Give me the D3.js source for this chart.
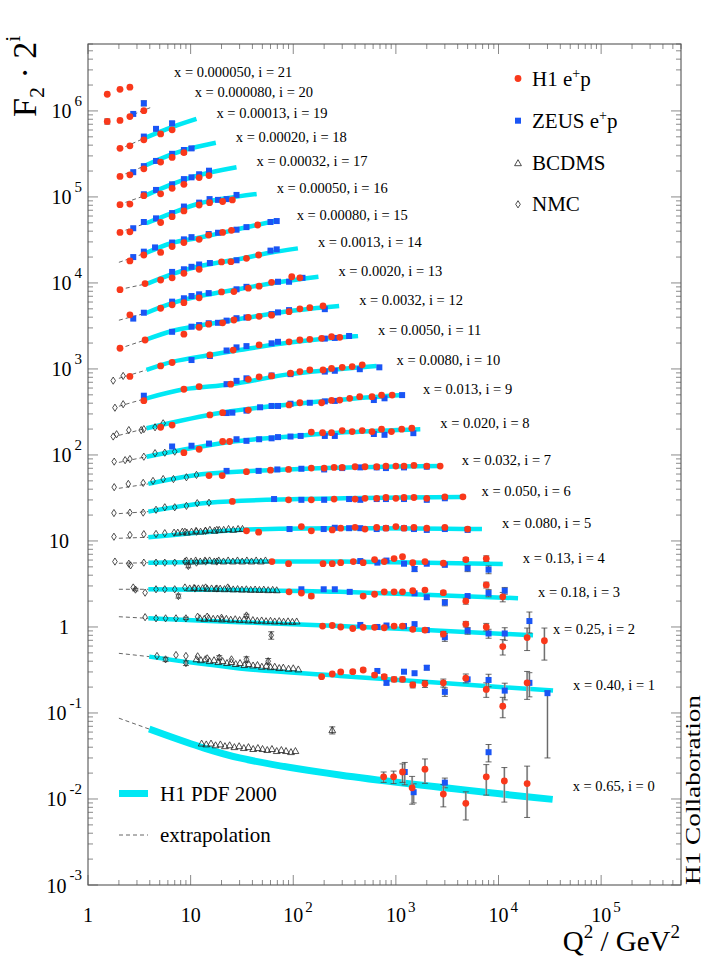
<!DOCTYPE html>
<html><head><meta charset="utf-8">
<script src="https://cdn.jsdelivr.net/npm/d3@7"></script>
<style>
body{margin:0;background:#fff}
svg{display:block}
</style>
</head><body>
<svg id="c" width="721" height="961" font-family="Liberation Serif, DejaVu Serif, serif"></svg>
<script>
// ---------------- DATA (index = i, bin shift factor 2^i) ----------------
const xBins = ["0.65","0.40","0.25","0.18","0.13","0.080","0.050","0.032","0.020","0.013","0.0080","0.0050","0.0032","0.0020","0.0013","0.00080","0.00050","0.00032","0.00020","0.00013","0.000080","0.000050"];

// H1 PDF 2000 fit, [Q2, F2]
const pdfFit = [
 [[3.95,0.065],[12.3,0.0405],[30,0.030],[284,0.019],[33700,0.0099]],
 [[3.95,0.226],[30,0.165],[284,0.135],[34000,0.091]],
 [[3.87,0.315],[30,0.284],[284,0.256],[21700,0.20]],
 [[3.87,0.343],[30,0.336],[284,0.32],[15500,0.27]],
 [[3.87,0.349],[30,0.36],[284,0.36],[11000,0.337]],
 [[3.87,0.345],[30,0.42],[355,0.44],[6900,0.43]],
 [[3.87,0.343],[15,0.435],[116,0.48],[4370,0.508]],
 [[3.87,0.36],[11.4,0.458],[116,0.537],[2800,0.58]],
 [[3.72,0.373],[24,0.553],[92,0.64],[355,0.72],[1730,0.78]],
 [[3.72,0.40],[20,0.606],[92,0.755],[355,0.875],[1170,0.97]],
 [[3.72,0.445],[8.6,0.567],[25,0.65],[92,0.85],[227,0.95],[648,1.06]],
 [[3.72,0.475],[6.6,0.59],[15.4,0.71],[30,0.81],[92,0.99],[428,1.18]],
 [[3.6,0.53],[6.6,0.675],[12.3,0.78],[30,0.93],[92,1.15],[280,1.32]],
 [[3.7,0.546],[6.6,0.71],[12.3,0.86],[30,1.04],[74,1.25],[176,1.44]],
 [[3.8,0.60],[6.6,0.775],[12.3,0.96],[30,1.16],[59,1.37],[111,1.54]],
 [[3.66,0.68],[6.6,0.89],[12.3,1.03],[30,1.30],[69,1.62]],
 [[3.7,0.755],[6.6,0.99],[12.1,1.28],[44,1.65]],
 [[3.7,0.80],[6.5,1.07],[12.1,1.37],[28,1.69]],
 [[3.45,0.86],[6.5,1.19],[10,1.40],[17.6,1.63]],
 [[3.7,0.94],[6.5,1.23],[11.4,1.54]],
 null,
 null
];

// extrapolation of the fit to low Q2, [Q2, F2]
const extrap = [
 [[2,0.087],[3.95,0.065]],[[2,0.247],[3.95,0.226]],[[2,0.329],[3.87,0.315]],
 [[2,0.343],[3.87,0.343]],[[2,0.344],[3.87,0.349]],[[2,0.336],[3.87,0.345]],
 [[2,0.325],[3.87,0.343]],[[2,0.32],[3.87,0.36]],[[2,0.32],[3.72,0.373]],
 [[2,0.33],[3.72,0.40]],[[2,0.36],[3.72,0.445]],[[2,0.38],[3.72,0.475]],
 [[2,0.42],[3.6,0.53]],[[2,0.45],[3.7,0.546]],[[2,0.51],[3.8,0.60]],
 [[2,0.53],[3.66,0.68]],[[2,0.59],[3.7,0.755]],[[2,0.62],[3.7,0.80]],
 [[2,0.66],[3.45,0.86]],[[2,0.68],[3.7,0.94]],[[2.4,0.81],[4.2,1.06]],
 null
];

// label anchors for bins without a fit curve, [Q2, F2]
const labelAnchorNoFit = {20:[7.0,1.35], 21:[4.4,1.15]};

// H1 e+p : [Q2, F2, err(up), err(down)]
const h1 = [
 [[760,0.0181,0.0025],[950,0.0181,0.003],[1160,0.0206,0.005],[1440,0.0135,0.0048],[1920,0.0222,0.007],[2900,0.0114,0.0033],[4800,0.0089,0.0032],[7600,0.0181,0.007],[11400,0.0162,0.007],[19000,0.0151,0.009]],
 [[189,0.132],[240,0.142],[290,0.150],[380,0.151,0.006],[480,0.158,0.007],[620,0.138,0.007],[770,0.132,0.008],[960,0.123,0.008],[1160,0.123,0.008],[1460,0.106,0.008],[1920,0.109,0.01],[2900,0.112,0.012],[4800,0.127,0.015],[7600,0.094,0.018],[11000,0.060,0.016],[19000,0.112,0.04]],
 [[193,0.256],[240,0.26],[290,0.25],[380,0.24],[480,0.248],[620,0.248],[770,0.245],[960,0.256,0.01],[1160,0.256,0.01],[1460,0.235,0.01],[1920,0.23,0.012],[2900,0.207,0.015],[4800,0.27,0.02],[7600,0.25,0.025],[11000,0.148,0.03],[19000,0.188,0.055],[28000,0.173,0.07]],
 [[91,0.32],[120,0.31],[150,0.286,0.015],[480,0.286],[620,0.30],[770,0.32],[960,0.32],[1160,0.32],[1460,0.33],[1920,0.336],[2900,0.313,0.015],[4800,0.25,0.02],[7600,0.385,0.03],[11000,0.28,0.035]],
 [[62,0.36],[90,0.34],[195,0.34],[240,0.34],[290,0.35],[385,0.36],[480,0.35],[620,0.38],[770,0.36],[960,0.39],[1160,0.41],[1460,0.35],[1920,0.36],[2900,0.345],[4800,0.38,0.02],[7600,0.39,0.03]],
 [[35,0.41],[46,0.395],[120,0.46],[150,0.41],[240,0.42],[290,0.44],[400,0.45],[500,0.43],[650,0.45],[800,0.44],[1000,0.46],[1200,0.44],[1500,0.45],[2000,0.44],[3000,0.45],[5000,0.43,0.02]],
 [[25.5,0.45],[90,0.47],[150,0.47],[250,0.48],[400,0.48],[500,0.49],[650,0.49],[800,0.50],[1000,0.49],[1200,0.50],[1500,0.50],[2000,0.49],[3000,0.51],[4500,0.51,0.02]],
 [[15.1,0.45],[20.3,0.45],[35,0.50],[60,0.52],[90,0.53],[150,0.55],[200,0.55],[250,0.56],[300,0.56],[400,0.57],[500,0.57],[650,0.57],[800,0.58],[1000,0.58],[1200,0.58],[1500,0.59],[2000,0.58],[2700,0.58]],
 [[8.6,0.415],[12.1,0.455],[20.5,0.56],[24,0.56],[150,0.72],[193,0.71],[236,0.71],[300,0.75],[375,0.73],[470,0.75],[585,0.73],[725,0.78],[905,0.73],[1140,0.78],[1430,0.80]],
 [[5.1,0.41],[6.6,0.435],[15.4,0.57],[20.5,0.606],[36.5,0.65],[91,0.745],[116,0.79],[189,0.79],[236,0.84],[284,0.85],[355,0.89],[444,0.93],[585,0.93],[725,0.97],[920,0.97]],
 [[3.5,0.418],[8.6,0.567],[12.1,0.61],[24.6,0.65],[36.5,0.74],[46.5,0.79],[61.5,0.81],[94,0.87],[116,0.91],[145,0.95],[195,0.95],[236,0.99],[300,1.02],[375,1.04],[470,1.09]],
 [[2.56,0.40],[5.1,0.53],[6.6,0.58],[15.4,0.71],[26,0.81],[46.5,0.93],[91,1.01],[116,1.06],[145,1.08],[189,1.11],[236,1.16],[284,1.14]],
 [[2.05,0.425],[3.6,0.53],[8.6,0.62],[12.1,0.745],[15,0.81],[20.5,0.84],[26.4,0.905],[36.5,0.97],[46.5,1.0],[61.5,1.03],[91,1.13],[116,1.22],[145,1.26],[195,1.32]],
 [[2.56,0.52],[5.1,0.62],[6.6,0.68],[8.6,0.72],[12.1,0.82],[20,0.96],[26.4,0.97],[36.5,1.06],[46.5,1.12],[61.5,1.24],[96.7,1.44],[116,1.40]],
 [[2.05,0.51],[3.6,0.60],[5.1,0.66],[6.6,0.70],[8.6,0.79],[12.1,0.88],[20,1.07],[24.7,1.08],[35,1.18],[46,1.29]],
 [[2.56,0.55],[3.5,0.645],[5.1,0.69],[6.6,0.81],[8.6,0.90],[12.1,0.98],[15,1.10],[20.5,1.18],[25,1.25],[45,1.44]],
 [[2.05,0.59],[2.56,0.60],[5.1,0.77],[6.6,0.90],[8.6,1.05],[12.1,1.23],[15.3,1.31],[20.5,1.35],[25.5,1.41]],
 [[2.05,0.62],[2.56,0.63],[3.5,0.79],[5.1,0.83],[6.6,0.96],[8.6,1.07],[12.1,1.28],[15.1,1.35]],
 [[2.05,0.66],[2.56,0.69],[3.5,0.81],[5.1,0.97],[6.6,1.10],[8.6,1.25,0.06]],
 [[2.05,0.70],[2.56,0.75],[3.5,0.88],[5.1,1.03],[6.6,1.15]],
 [[1.54,0.72,0.05],[2.05,0.74],[2.56,0.82],[3.5,0.96]],
 [[1.54,0.745],[2.05,0.85],[2.56,0.90]]
];

// ZEUS e+p : [Q2, F2, err(up), err(down)]
const zeus = [
 [[1220,0.0206,0.006],[1490,0.012,0.003],[3000,0.0155,0.002],[8000,0.035,0.008]],
 [[660,0.154],[810,0.112,0.006],[1200,0.151],[1520,0.145],[2000,0.168,0.01],[3000,0.088,0.01],[5000,0.123],[8000,0.121,0.02],[11500,0.091,0.02],[20000,0.112,0.035],[30000,0.085,0.005,0.07]],
 [[450,0.264],[660,0.25],[810,0.26],[1200,0.256],[1520,0.27],[2000,0.23],[3000,0.19,0.02],[5000,0.226,0.02],[8000,0.21,0.025],[11500,0.21,0.035],[20000,0.293,0.08]],
 [[120,0.343],[198,0.343],[254,0.343],[355,0.32],[1520,0.308],[2000,0.277,0.015],[3000,0.24,0.02],[5000,0.286],[8000,0.31,0.03],[11500,0.33,0.03]],
 [[450,0.365],[660,0.35],[810,0.37],[1200,0.34],[1520,0.295,0.02],[2000,0.34],[3000,0.33],[5000,0.30,0.025],[8000,0.29,0.03]],
 [[92,0.43],[198,0.43],[254,0.445],[350,0.44],[450,0.44],[650,0.43],[800,0.44],[1200,0.44],[1500,0.43],[2000,0.42],[3000,0.43],[5000,0.42]],
 [[65,0.48],[120,0.47],[200,0.47],[350,0.48],[450,0.47],[650,0.48],[800,0.48],[1200,0.48],[2000,0.47],[3000,0.49]],
 [[22.4,0.51],[46,0.51],[70,0.53],[120,0.54],[200,0.53],[300,0.55],[450,0.56],[650,0.56],[800,0.55],[1200,0.56],[2000,0.57]],
 [[6.6,0.49],[10.2,0.50],[15.1,0.53],[28,0.595],[35,0.57],[46.5,0.595],[61.5,0.61],[71,0.63],[94,0.64],[118,0.65],[203,0.65],[254,0.65],[610,0.685],[775,0.67],[1480,0.70]],
 [[22.4,0.60],[25.5,0.606],[35,0.64],[47.5,0.70],[61.5,0.725],[71,0.725],[94,0.77],[145,0.79],[203,0.82],[254,0.83],[610,0.85],[775,0.89],[1150,0.97]],
 [[3.5,0.477],[22.4,0.65],[28,0.71],[35,0.76],[61.5,0.82],[94,0.85],[203,0.91],[254,0.93],[445,0.97],[690,1.02]],
 [[10.2,0.62],[15.4,0.69],[22.4,0.80],[28,0.87],[35,0.90],[61.5,0.97],[71,1.01],[203,1.10],[254,1.12],[350,1.18]],
 [[6.6,0.66],[10.2,0.757],[12.1,0.79],[15,0.83],[18.5,0.84],[22.4,0.89],[28,0.95],[35,0.97],[61.5,1.06],[71,1.11],[91,1.18],[203,1.21]],
 [[2.76,0.47],[3.5,0.55],[6.6,0.74],[8.6,0.81],[10.2,0.86],[12.1,0.90],[15,0.93],[28,1.03],[35,1.10],[71,1.26],[91,1.26],[123,1.40]],
 [[6.6,0.82],[8.6,0.88],[10.2,0.94],[12.1,1.0],[15.4,1.04],[28,1.12],[60,1.45],[69,1.50]],
 [[2.76,0.61],[3.5,0.705],[4.5,0.79],[6.6,0.90],[8.6,0.98],[10.2,1.04],[15,1.13],[18.5,1.17],[28,1.27],[35,1.36],[60,1.56],[69,1.60]],
 [[2.76,0.66],[3.5,0.78],[4.6,0.86],[6.6,0.99],[8.6,1.18],[12.1,1.31],[15.3,1.44],[18.5,1.41],[22.4,1.44],[28,1.61]],
 [[3.5,0.82],[4.6,0.92],[6.6,1.07],[8.6,1.23],[10.2,1.29],[12.1,1.40],[15.1,1.54]],
 [[2.76,0.74],[3.5,0.87],[4.6,1.0],[6.6,1.21],[8.6,1.34],[10.2,1.40,0.07]],
 [[3.5,0.96],[4.6,1.18],[6.6,1.37,0.07]],
 [[2.76,0.88],[3.5,1.17,0.08]],
 []
];

// BCDMS : [Q2, F2, err]
const bcdms = [
 [[12.8,0.044],[14.2,0.043],[15.8,0.044],[17.5,0.042],[19.5,0.043],[21.6,0.041],[24,0.042],[26.7,0.040],[29.7,0.041],[33,0.039],[36.6,0.040],[40.7,0.038],[45.2,0.039],[50.2,0.038],[55.8,0.037],[62,0.038],[69,0.036],[76.6,0.037],[85,0.036],[95,0.035],[105,0.036],[240,0.063,0.006]],
 [[11.4,0.21],[12.6,0.205],[13.9,0.21],[15.3,0.20],[16.9,0.205],[18.6,0.195],[20.5,0.20],[22.6,0.19],[24.9,0.195],[27.5,0.185],[30.3,0.19],[33.4,0.18],[36.8,0.185],[40.6,0.178],[44.8,0.18],[49.4,0.172],[54.5,0.176],[60,0.17],[66,0.172],[73,0.166],[80,0.168],[90,0.163],[100,0.165],[112,0.16]],
 [[12.3,0.315],[13.6,0.31],[15,0.315],[16.6,0.31],[18.3,0.312],[20.2,0.305],[22.3,0.31],[24.6,0.303],[27.2,0.307],[30,0.30],[33.1,0.303],[36.6,0.297],[40.4,0.30],[44.6,0.294],[49.2,0.297],[54.3,0.291],[60,0.294],[66,0.289],[73,0.292],[80.5,0.287],[89,0.29],[98,0.286],[108,0.289]],
 [[9.8,0.35],[10.8,0.355],[11.9,0.35],[13.1,0.352],[14.5,0.347],[16,0.35],[17.6,0.345],[19.4,0.348],[21.4,0.343],[23.6,0.346],[26,0.341],[28.7,0.344],[31.6,0.339],[34.9,0.342],[38.5,0.337],[42.5,0.34],[46.8,0.336],[51.6,0.339],[57,0.334],[63,0.337],[69,0.333]],
 [[9.1,0.37],[10.1,0.36],[11.2,0.37],[12.4,0.36],[13.8,0.37],[15.3,0.37],[17,0.36],[18.8,0.37],[20.9,0.36],[23.2,0.37],[25.8,0.36],[28.6,0.37],[31.8,0.36],[35.3,0.37],[39.2,0.36],[43.5,0.37],[48.3,0.36],[53.6,0.37]],
 [[7.5,0.39],[8.3,0.40],[9.2,0.39],[10.2,0.40],[11.3,0.41],[12.5,0.40],[13.9,0.41],[15.4,0.42],[17.1,0.41],[19,0.42],[21,0.42],[23.4,0.43],[26,0.42],[29,0.43],[32,0.43]],
 [],[],[],[],[],[],[],[],[],[],[],[],[],[],[],[]
];

// NMC : [Q2, F2, err]
const nmc = [
 [],
 [[4.7,0.23],[5.7,0.21,0.012],[7.2,0.236],[9,0.23],[9,0.19,0.012],[11.7,0.228],[14.5,0.216],[19,0.22,0.012],[25,0.21],[35,0.21,0.015],[57,0.20,0.015]],
 [[3.6,0.325],[4.6,0.315],[5.7,0.315],[7.2,0.315],[9,0.315,0.01],[11.7,0.329],[14.5,0.33],[20,0.32],[35,0.34,0.012],[61,0.20,0.02]],
 [[2.76,0.36],[2.9,0.34,0.012],[3.6,0.313],[4.6,0.343],[5.6,0.343],[7,0.343],[7.6,0.286,0.015],[8.8,0.36],[11,0.35],[14,0.36],[18,0.35],[23,0.36]],
 [[1.83,0.36],[2.5,0.34],[2.6,0.325],[3.5,0.35],[4.6,0.35],[5.6,0.35],[7,0.35],[8.8,0.36],[9.5,0.32,0.015],[11.4,0.35],[14,0.36],[18,0.36]],
 [[1.79,0.35],[2.56,0.367],[3.5,0.375],[4.6,0.377],[5.6,0.385],[6.9,0.39],[8.8,0.40],[11.4,0.40],[14,0.41],[18,0.42]],
 [[1.79,0.33],[2.56,0.334],[3.45,0.334],[4.6,0.36],[5.6,0.385],[7,0.385],[9.1,0.40],[11.6,0.43],[15.1,0.435]],
 [[1.8,0.33],[2.47,0.36],[3.45,0.37],[4.3,0.39],[5.4,0.41],[6.8,0.41],[9.1,0.43],[11.4,0.458]],
 [[1.8,0.327],[2.3,0.34],[2.56,0.35],[3.5,0.373],[4.5,0.41],[5.6,0.415],[7.0,0.427]],
 [[1.76,0.32],[1.9,0.34],[2.5,0.38],[3.3,0.38],[3.5,0.39],[4.5,0.41],[5.4,0.456]],
 [[1.83,0.346],[2.2,0.38]],
 [[1.76,0.357],[2.2,0.405]],
 [],[],[],[],[],[],[],[],[],[]
];

const legendItems = ["H1 e+p","ZEUS e+p","BCDMS","NMC"];
const yTickExps = [-3,-2,-1,0,1,2,3,4,5,6];
const xTickExps = [0,1,2,3,4,5];

// ---------------- DRAWING ----------------
const svg = d3.select("#c");
const x = d3.scaleLog().domain([1, 6e5]).range([88, 681]);
const y = d3.scaleLog().domain([1e-3, 6e6]).range([885, 44]);
const RED = "#f9381b", BLUE = "#1a55f5", CYAN = "#00e8f4";
const sc = i => Math.pow(2, i);

const gCurves = svg.append("g");
const gErr = svg.append("g");
const gMk = svg.append("g");
const line = d3.line().x(d => x(d[0])).y(d => y(d[1])).curve(d3.curveCatmullRom.alpha(0.5));

pdfFit.forEach((pts, i) => {
  if (!pts) return;
  gCurves.append("path")
    .attr("d", line(pts.map(p => [p[0], p[1]*sc(i)])))
    .attr("fill","none").attr("stroke",CYAN)
    .attr("stroke-width", i===0 ? 7 : 4.5).attr("stroke-linecap","butt");
});
extrap.forEach((pts, i) => {
  if (!pts) return;
  gCurves.append("path")
    .attr("d", line(pts.map(p => [p[0], p[1]*sc(i)])))
    .attr("fill","none").attr("stroke","#555").attr("stroke-width",0.9)
    .attr("stroke-dasharray","4,3");
});

function errBar(q, f, i, up, dn) {
  if (!up) return;
  if (dn === undefined) dn = up;
  const cx = x(q), s = sc(i);
  const y1 = y((f+up)*s), y2 = y(Math.max(f-dn, 1e-5)*s);
  gErr.append("line").attr("x1",cx).attr("x2",cx).attr("y1",y1).attr("y2",y2)
    .attr("stroke","#bdbdbd").attr("stroke-width",2);
  gErr.append("line").attr("x1",cx).attr("x2",cx).attr("y1",y1).attr("y2",y2)
    .attr("stroke","#444").attr("stroke-width",0.7);
  [y1,y2].forEach(yy => gErr.append("line").attr("x1",cx-3).attr("x2",cx+3)
    .attr("y1",yy).attr("y2",yy).attr("stroke","#444").attr("stroke-width",0.8));
}

const triPath = "M0,-3.6L3.4,2.4L-3.4,2.4Z";
const diaPath = "M0,-3.6L2.3,0L0,3.6L-2.3,0Z";

nmc.forEach((pts, i) => pts.forEach(p => {
  errBar(p[0], p[1], i, p[2], p[3]);
  gMk.append("path").attr("d", diaPath)
    .attr("transform", `translate(${x(p[0])},${y(p[1]*sc(i))})`)
    .attr("fill","none").attr("stroke","#222").attr("stroke-width",0.8);
}));
bcdms.forEach((pts, i) => pts.forEach(p => {
  errBar(p[0], p[1], i, p[2], p[3]);
  gMk.append("path").attr("d", triPath)
    .attr("transform", `translate(${x(p[0])},${y(p[1]*sc(i))})`)
    .attr("fill","none").attr("stroke","#222").attr("stroke-width",0.8);
}));
zeus.forEach((pts, i) => pts.forEach(p => {
  errBar(p[0], p[1], i, p[2], p[3]);
  gMk.append("rect").attr("x", x(p[0])-3).attr("y", y(p[1]*sc(i))-3)
    .attr("width",6).attr("height",6).attr("fill",BLUE);
}));
h1.forEach((pts, i) => pts.forEach(p => {
  errBar(p[0], p[1], i, p[2], p[3]);
  gMk.append("circle").attr("cx", x(p[0])).attr("cy", y(p[1]*sc(i)))
    .attr("r",3.4).attr("fill",RED);
}));

// bin labels
const gLab = svg.append("g");
xBins.forEach((xb, i) => {
  const a = pdfFit[i] ? pdfFit[i][pdfFit[i].length-1] : labelAnchorNoFit[i];
  const dy = i === 0 ? -8 : -1;
  gLab.append("text").attr("x", x(a[0]) + 20).attr("y", y(a[1]*sc(i)) + dy)
    .attr("font-size", 14.5).text(`x = ${xb}, i = ${i}`);
});

// frame + ticks
const gAx = svg.append("g");
function logTicks(lo, hi) {
  const out = [];
  for (let e = Math.floor(Math.log10(lo)); e <= Math.ceil(Math.log10(hi)); e++)
    for (let m = 1; m <= 9; m++) {
      const v = m*Math.pow(10,e);
      if (v >= lo*0.999 && v <= hi*1.001) out.push({v, major: m===1});
    }
  return out;
}
logTicks(1, 6e5).forEach(t => {
  const L = t.major ? 10 : 5, px = x(t.v);
  gAx.append("line").attr("x1",px).attr("x2",px).attr("y1",885).attr("y2",885-L).attr("stroke","#8a8a8a");
  gAx.append("line").attr("x1",px).attr("x2",px).attr("y1",44).attr("y2",44+L).attr("stroke","#8a8a8a");
});
logTicks(1e-3, 6e6).forEach(t => {
  const L = t.major ? 10 : 5, py = y(t.v);
  gAx.append("line").attr("x1",88).attr("x2",88+L).attr("y1",py).attr("y2",py).attr("stroke","#8a8a8a");
  gAx.append("line").attr("x1",681).attr("x2",681-L).attr("y1",py).attr("y2",py).attr("stroke","#8a8a8a");
});
gAx.append("rect").attr("x",88).attr("y",44).attr("width",593).attr("height",841)
  .attr("fill","none").attr("stroke","#555").attr("stroke-width",1.1);

// x tick labels
xTickExps.forEach(e => {
  const px = x(Math.pow(10,e));
  if (e === 0) { gAx.append("text").attr("x",px).attr("y",922).attr("text-anchor","middle").attr("font-size",20).text("1"); return; }
  gAx.append("text").attr("x",px).attr("y",922).attr("text-anchor","middle").attr("font-size",20).text("10");
  if (e > 1) gAx.append("text").attr("x",px+12).attr("y",912).attr("font-size",15).text(e);
});
// y tick labels
yTickExps.forEach(e => {
  const py = y(Math.pow(10,e));
  if (e === 0 || e === 1) {
    gAx.append("text").attr("x",69).attr("y",py+7.5).attr("text-anchor","end").attr("font-size",20).text(e===0?"1":"10");
    return;
  }
  const sup = gAx.append("text").attr("x",82).attr("y",py-5).attr("text-anchor","end").attr("font-size",15).text(e);
  const w = sup.node().getComputedTextLength();
  gAx.append("text").attr("x",82-w-3).attr("y",py+7.5).attr("text-anchor","end").attr("font-size",20).text("10");
});

// axis titles
const yt = svg.append("text").attr("transform","translate(36,117) rotate(-90)").attr("font-size",34);
yt.append("tspan").text("F");
yt.append("tspan").attr("font-size",22).attr("dy",8).text("2");
yt.append("tspan").attr("dy",-8).text(" \u00B7 2");
yt.append("tspan").attr("font-size",22).attr("dy",-16).text("i");

const xt = svg.append("text").attr("x",680).attr("y",951).attr("text-anchor","end").attr("font-size",29);
xt.append("tspan").text("Q");
xt.append("tspan").attr("font-size",19).attr("dy",-13).text("2");
xt.append("tspan").attr("dy",13).text(" / GeV");
xt.append("tspan").attr("font-size",19).attr("dy",-13).text("2");

svg.append("text").attr("transform","translate(700,885) rotate(-90)").attr("font-size",21)
  .attr("textLength",190).attr("lengthAdjust","spacingAndGlyphs").text("H1 Collaboration");

// legend (top right)
const lg = svg.append("g");
const ly = [78.5, 120.7, 163.3, 204.3];
lg.append("circle").attr("cx",518).attr("cy",ly[0]).attr("r",3.4).attr("fill",RED);
lg.append("rect").attr("x",515).attr("y",ly[1]-3).attr("width",6).attr("height",6).attr("fill",BLUE);
lg.append("path").attr("d",triPath).attr("transform",`translate(518,${ly[2]})`).attr("fill","none").attr("stroke","#222").attr("stroke-width",0.8);
lg.append("path").attr("d",diaPath).attr("transform",`translate(518,${ly[3]})`).attr("fill","none").attr("stroke","#222").attr("stroke-width",0.8);
legendItems.forEach((t, k) => {
  const tx = lg.append("text").attr("x",532).attr("y",ly[k]+7).attr("font-size",21);
  if (t.includes("+")) {
    const [a, b] = t.split("+");
    tx.append("tspan").text(a);
    tx.append("tspan").attr("font-size",14).attr("dy",-8).text("+");
    tx.append("tspan").attr("dy",8).text(b);
  } else tx.text(t);
});

// legend (bottom left)
lg.append("line").attr("x1",119).attr("x2",148).attr("y1",793.5).attr("y2",793.5).attr("stroke",CYAN).attr("stroke-width",7);
lg.append("text").attr("x",160).attr("y",800.5).attr("font-size",21).text("H1 PDF 2000");
lg.append("line").attr("x1",119).attr("x2",148).attr("y1",835).attr("y2",835).attr("stroke","#555").attr("stroke-width",0.9).attr("stroke-dasharray","4,3");
lg.append("text").attr("x",160).attr("y",842).attr("font-size",21).text("extrapolation");
</script>
</body></html>
